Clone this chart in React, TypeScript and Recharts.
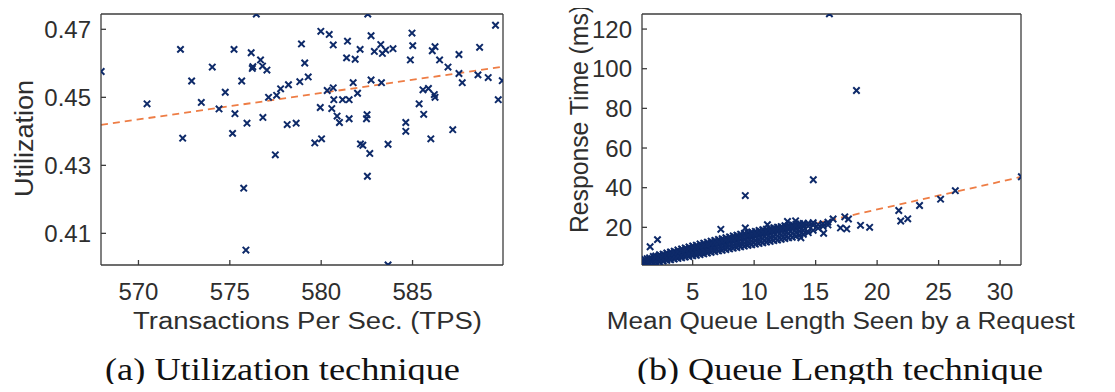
import React from "react";
import { ScatterChart, Scatter, XAxis, YAxis, ReferenceLine } from "recharts";

// (a) utilization vs. TPS samples: [tps, utilization]
const utilSamples: [number, number][] = [
  [567.96, 0.4576], [570.47, 0.4481], [572.3, 0.4641], [572.42, 0.438], [572.91, 0.4548],
  [573.44, 0.4485], [574.04, 0.4589], [574.41, 0.4466], [574.75, 0.4515], [575.23, 0.4641],
  [575.28, 0.4452], [575.15, 0.4394], [575.65, 0.4548], [575.76, 0.4233], [575.88, 0.4051],
  [575.94, 0.4424], [576.17, 0.4631], [576.23, 0.4585], [576.26, 0.459], [576.45, 0.4745],
  [576.68, 0.461], [576.81, 0.4441], [576.79, 0.4592], [577.03, 0.458], [577.12, 0.45],
  [577.49, 0.4331], [577.56, 0.4506], [577.78, 0.4525], [578.14, 0.442], [578.21, 0.4537],
  [578.63, 0.4424], [578.83, 0.4546], [578.92, 0.4657], [579.1, 0.4601], [579.29, 0.456],
  [579.65, 0.4366], [579.98, 0.4694], [579.95, 0.447], [580.02, 0.4378], [580.33, 0.452],
  [580.44, 0.4685], [580.58, 0.4467], [580.66, 0.4654], [580.66, 0.4528], [580.69, 0.4493],
  [580.87, 0.4445], [581.0, 0.4426], [581.17, 0.4493], [581.39, 0.4616], [581.44, 0.4665],
  [581.53, 0.4493], [581.53, 0.4437], [581.75, 0.4543], [581.86, 0.4612], [581.99, 0.4512],
  [582.13, 0.4641], [582.15, 0.4363], [582.28, 0.4359], [582.48, 0.4437], [582.51, 0.4449],
  [582.55, 0.4745], [582.53, 0.4268], [582.66, 0.4335], [582.73, 0.4681], [582.73, 0.4551],
  [582.91, 0.4635], [583.26, 0.4655], [583.3, 0.4543], [583.35, 0.4629], [583.53, 0.4639],
  [583.66, 0.4362], [583.66, 0.4007], [583.93, 0.4643], [584.63, 0.4426], [584.63, 0.44],
  [584.88, 0.461], [584.97, 0.4689], [585.01, 0.4652], [585.36, 0.4481], [585.57, 0.4522],
  [585.61, 0.445], [585.87, 0.4526], [586.0, 0.4378], [586.08, 0.4637], [586.23, 0.4649],
  [586.19, 0.4508], [586.23, 0.45], [586.48, 0.461], [586.94, 0.4589], [587.2, 0.4405],
  [587.54, 0.4626], [587.54, 0.457], [587.72, 0.4543], [588.58, 0.4566], [588.67, 0.4647],
  [589.14, 0.4558], [589.54, 0.4712], [589.69, 0.4493], [589.91, 0.4549],
];

// (b) dense band of [mean queue length, response time ms]
const queueBand: [number, number][] = [
  [0.9, 1.2], [0.9, 2.0], [0.9, 3.1], [1.0, 1.6], [1.1, 1.5], [1.1, 2.6], [1.1, 3.8],
  [1.3, 1.3], [1.3, 2.9], [1.3, 4.2], [1.5, 1.8], [1.5, 3.4], [1.5, 4.6],
  [1.8, 2.1], [1.8, 3.6], [1.8, 5.3], [2.0, 2.4], [2.0, 4.1], [2.0, 5.6],
  [2.3, 2.6], [2.3, 4.5], [2.3, 6.2], [2.6, 3.0], [2.6, 4.8], [2.6, 6.5],
  [2.9, 3.4], [2.9, 5.3], [2.9, 7.1], [3.2, 3.6], [3.2, 5.7], [3.2, 7.6],
  [3.5, 4.0], [3.5, 6.2], [3.5, 8.0], [3.8, 4.3], [3.8, 6.5], [3.8, 8.6],
  [4.1, 4.6], [4.1, 7.0], [4.1, 9.1], [4.4, 5.0], [4.4, 7.3], [4.4, 9.6],
  [4.7, 5.3], [4.7, 7.9], [4.7, 10.1], [5.0, 5.6], [5.0, 8.2], [5.0, 10.6],
  [5.3, 5.9], [5.3, 8.7], [5.3, 11.0], [5.6, 6.3], [5.6, 9.0], [5.6, 11.6],
  [5.9, 6.6], [5.9, 9.5], [5.9, 12.0], [6.2, 7.0], [6.2, 9.8], [6.2, 12.5],
  [6.5, 7.4], [6.5, 10.4], [6.5, 13.0], [6.8, 7.7], [6.8, 10.7], [6.8, 13.4],
  [7.1, 8.1], [7.1, 11.2], [7.1, 13.9], [7.4, 8.4], [7.4, 11.6], [7.4, 14.3],
  [7.7, 8.8], [7.7, 12.0], [7.7, 14.8], [8.0, 9.1], [8.0, 12.5], [8.0, 15.2],
  [8.3, 9.5], [8.3, 12.8], [8.3, 15.7], [8.6, 9.8], [8.6, 13.3], [8.6, 16.0],
  [8.9, 10.2], [8.9, 13.7], [8.9, 16.5], [9.2, 10.5], [9.2, 14.0], [9.2, 16.9],
  [9.5, 10.9], [9.5, 14.6], [9.5, 17.2], [9.8, 11.2], [9.8, 14.9], [9.8, 17.7],
  [10.1, 11.5], [10.1, 15.3], [10.1, 18.0], [10.4, 11.9], [10.4, 15.8], [10.4, 18.4],
  [10.7, 12.2], [10.7, 16.1], [10.7, 18.8], [11.0, 12.6], [11.0, 16.5], [11.0, 19.1],
  [11.3, 12.9], [11.3, 16.9], [11.3, 19.5], [11.6, 13.3], [11.6, 17.3], [11.6, 19.8],
  [11.9, 13.6], [11.9, 17.6], [11.9, 20.1], [12.2, 14.0], [12.2, 18.1], [12.2, 20.4],
  [12.5, 14.3], [12.5, 18.4], [12.5, 20.8], [12.8, 14.7], [12.8, 18.8], [12.8, 21.0],
  [13.1, 15.0], [13.1, 19.2], [13.1, 21.3], [13.4, 15.4], [13.4, 19.5], [13.4, 21.6],
  [13.7, 16.0], [13.7, 19.9], [13.7, 21.8], [14.0, 16.5], [14.0, 20.2], [14.0, 22.0],
  [14.4, 17.3], [14.4, 20.6], [14.4, 22.1], [14.8, 18.5], [14.8, 21.0], [14.8, 22.3],
  [15.2, 19.6], [15.2, 21.4], [15.6, 20.5], [15.6, 21.8], [16.0, 21.2], [16.0, 22.6],
];

// (b) in-between rows that fill the band
const queueBandFill: [number, number][] = [
  [2.0, 3.2], [2.0, 4.9], [2.3, 3.5], [2.3, 5.4], [2.6, 3.9], [2.6, 5.7],
  [2.9, 4.3], [2.9, 6.2], [3.2, 4.6], [3.2, 6.7], [3.5, 5.1], [3.5, 7.1],
  [3.8, 5.4], [3.8, 7.6], [4.1, 5.8], [4.1, 8.0], [4.4, 6.1], [4.4, 8.5],
  [4.7, 6.6], [4.7, 9.0], [5.0, 6.9], [5.0, 9.4], [5.3, 7.3], [5.3, 9.9],
  [5.6, 7.6], [5.6, 10.3], [5.9, 8.0], [5.9, 10.8], [6.2, 8.4], [6.2, 11.2],
  [6.5, 8.9], [6.5, 11.7], [6.8, 9.2], [6.8, 12.1], [7.1, 9.6], [7.1, 12.6],
  [7.4, 10.0], [7.4, 13.0], [7.7, 10.4], [7.7, 13.4], [8.0, 10.8], [8.0, 13.9],
  [8.3, 11.1], [8.3, 14.3], [8.6, 11.5], [8.6, 14.7], [8.9, 11.9], [8.9, 15.1],
  [9.2, 12.2], [9.2, 15.5], [9.5, 12.7], [9.5, 15.9], [9.8, 13.0], [9.8, 16.3],
  [10.1, 13.4], [10.1, 16.7], [10.4, 13.8], [10.4, 17.1], [10.7, 14.2], [10.7, 17.5],
  [11.0, 14.5], [11.0, 17.8], [11.3, 14.9], [11.3, 18.2], [11.6, 15.3], [11.6, 18.6],
  [11.9, 15.6], [11.9, 18.9], [12.2, 16.1], [12.2, 19.3], [12.5, 16.4], [12.5, 19.6],
  [12.8, 16.8], [12.8, 20.0], [13.1, 17.1], [13.1, 20.3], [13.4, 17.5], [13.4, 20.6],
  [13.7, 18.0], [13.7, 21.0], [14.0, 18.4], [14.0, 21.2],
];

const queueOutliers: [number, number][] = [
  [16.12, 127.7], [18.32, 89], [14.81, 44], [9.28, 36], [31.73, 45.5], [26.36, 38.5],
  [25.16, 34.2], [23.45, 31], [21.76, 28.5], [21.92, 23.2], [22.49, 24.3], [19.39, 20],
  [18.65, 21], [17.67, 24.2], [17.37, 25.3], [17.02, 19.7], [17.53, 19.2], [16.42, 24.2],
  [15.65, 17], [7.29, 19], [9.28, 19.7], [2.14, 13.8], [1.54, 10.2], [11.08, 21.3],
  [12.71, 23], [13.37, 23.3], [13.8, 14.7], [14.35, 18],
];

// fitted lines, end points
const utilTrend: [number, number][] = [[567.95, 0.4419], [589.95, 0.459]];
const queueTrend: [number, number][] = [[0.88, 2.2], [31.7, 45.4]];

const tpsTicks = [570, 575, 580, 585];
const utilTicks = [0.41, 0.43, 0.45, 0.47];
const queueTicks = [5, 10, 15, 20, 25, 30];
const respTicks = [20, 40, 60, 80, 100, 120];

const MARK = "#0e2a69";
const FIT = "#ee7d45";
const AXIS = "#3c3c3c";
const TEXT = "#2e2e2e";
const SANS = "'Liberation Sans', Arial, Helvetica, sans-serif";
const SERIF = "'Liberation Serif', 'Times New Roman', serif";

const Cross = (props: any) => {
  const { cx, cy } = props;
  if (cx == null || cy == null) return null;
  const s = 3.2;
  return (
    <path
      d={`M${cx - s},${cy - s}L${cx + s},${cy + s}M${cx - s},${cy + s}L${cx + s},${cy - s}`}
      stroke={MARK}
      strokeWidth={2}
      fill="none"
    />
  );
};

interface PanelProps {
  left: number;
  width: number;
  rightMargin: number;
  points: [number, number][];
  trend: [number, number][];
  xDomain: [number, number];
  yDomain: [number, number];
  xTicks: number[];
  yTicks: number[];
  formatY?: (v: number) => string;
}

const Panel: React.FC<PanelProps> = ({
  left,
  width,
  rightMargin,
  points,
  trend,
  xDomain,
  yDomain,
  xTicks,
  yTicks,
  formatY = (v: number) => String(v),
}) => {
  const data = points.map(([x, y]) => ({ x, y }));
  const tickStyle = { fill: TEXT, fontSize: 24, fontFamily: SANS };
  return (
    <div style={{ position: "absolute", left, top: 0 }}>
      <ScatterChart
        width={width}
        height={340}
        margin={{ top: 14, right: rightMargin, bottom: 35, left: 41 }}
      >
        <XAxis
          xAxisId="b"
          type="number"
          dataKey="x"
          domain={xDomain}
          ticks={xTicks}
          allowDataOverflow
          interval={0}
          height={40}
          tickSize={-5}
          tickMargin={23}
          stroke={AXIS}
          strokeWidth={1.3}
          tick={tickStyle}
        />
        <XAxis
          xAxisId="t"
          orientation="top"
          type="number"
          domain={xDomain}
          ticks={xTicks}
          allowDataOverflow
          interval={0}
          mirror
          height={1}
          tickSize={5}
          tick={false}
          stroke={AXIS}
          strokeWidth={1.3}
        />
        <YAxis
          yAxisId="l"
          type="number"
          dataKey="y"
          domain={yDomain}
          ticks={yTicks}
          allowDataOverflow
          interval={0}
          width={60}
          tickSize={-5}
          tickMargin={15}
          tickFormatter={formatY}
          stroke={AXIS}
          strokeWidth={1.3}
          tick={tickStyle}
        />
        <YAxis
          yAxisId="r"
          orientation="right"
          type="number"
          domain={yDomain}
          ticks={yTicks}
          allowDataOverflow
          interval={0}
          mirror
          width={1}
          tickSize={5}
          tick={false}
          stroke={AXIS}
          strokeWidth={1.3}
        />
        <Scatter
          xAxisId="b"
          yAxisId="l"
          data={data}
          shape={Cross}
          isAnimationActive={false}
        />
        <ReferenceLine
          xAxisId="b"
          yAxisId="l"
          segment={trend.map(([x, y]) => ({ x, y }))}
          stroke={FIT}
          strokeWidth={1.8}
          strokeDasharray="7 5"
          ifOverflow="visible"
        />
      </ScatterChart>
    </div>
  );
};

export default function App() {
  return (
    <div
      style={{
        position: "relative",
        width: 1115,
        height: 392,
        margin: -8,
        background: "#fff",
        overflow: "hidden",
      }}
    >
      <Panel
        left={0}
        width={530}
        rightMargin={27}
        points={utilSamples}
        trend={utilTrend}
        xDomain={[567.95, 589.95]}
        yDomain={[0.4007, 0.4745]}
        xTicks={tpsTicks}
        yTicks={utilTicks}
        formatY={(v) => v.toFixed(2)}
      />
      <Panel
        left={541}
        width={574}
        rightMargin={94}
        points={[...queueBand, ...queueBandFill, ...queueOutliers]}
        trend={queueTrend}
        xDomain={[0.88, 31.7]}
        yDomain={[1, 127.6]}
        xTicks={queueTicks}
        yTicks={respTicks}
      />
      <svg
        width={1115}
        height={392}
        style={{ position: "absolute", left: 0, top: 0, pointerEvents: "none" }}
      >
        <g fontFamily={SANS} fill={TEXT} textAnchor="middle">
          <text
            x={33}
            y={138.5}
            fontSize={25}
            textLength={117}
            lengthAdjust="spacingAndGlyphs"
            transform="rotate(-90 33 138.5)"
          >
            Utilization
          </text>
          <text
            x={588}
            y={119}
            fontSize={25}
            textLength={228}
            lengthAdjust="spacingAndGlyphs"
            transform="rotate(-90 588 119)"
          >
            Response Time (ms)
          </text>
          <text x={307.5} y={329} fontSize={23} textLength={349} lengthAdjust="spacingAndGlyphs">
            Transactions Per Sec. (TPS)
          </text>
          <text x={840.8} y={329} fontSize={23} textLength={468} lengthAdjust="spacingAndGlyphs">
            Mean Queue Length Seen by a Request
          </text>
        </g>
        <g fontFamily={SERIF} fill="#111" textAnchor="middle" fontSize={31}>
          <text x={282.5} y={380} textLength={355} lengthAdjust="spacingAndGlyphs">
            (a) Utilization technique
          </text>
          <text x={840} y={380} textLength={406} lengthAdjust="spacingAndGlyphs">
            (b) Queue Length technique
          </text>
        </g>
      </svg>
    </div>
  );
}
